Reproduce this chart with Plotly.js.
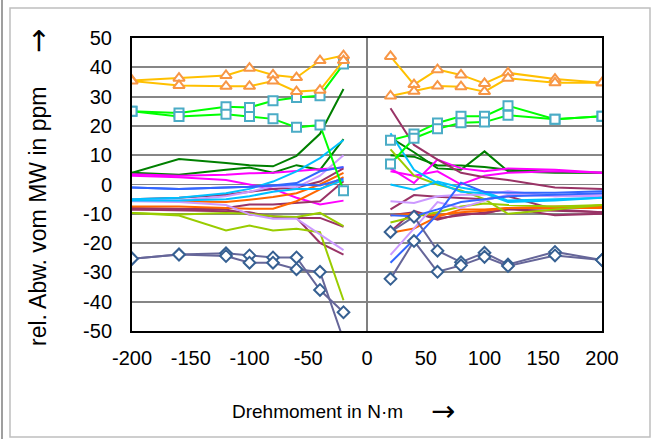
<!DOCTYPE html>
<html>
<head>
<meta charset="utf-8">
<script src="https://cdn.plot.ly/plotly-3.0.1.min.js"></script>
<style>
  html, body { margin: 0; padding: 0; background: #ffffff; }
  #chart { width: 655px; height: 439px; }
</style>
</head>
<body>
<div id="chart"></div>
<script>
// Torque steps (N·m) for the negative and positive load branches
const torqueNeg = [-200, -160, -120, -100, -80, -60, -40, -20];
const torquePos = [20, 40, 60, 80, 100, 120, 160, 200];

// Axis tick labels
const xTickVals = [-200, -150, -100, -50, 0, 50, 100, 150, 200];
const xTickText = ['-200', '-150', '-100', '-50', '0', '50', '100', '150', '200'];
const yTickVals = [50, 40, 30, 20, 10, 0, -10, -20, -30, -40, -50];
const yTickText = ['50', '40', '30', '20', '10', '0', '-10', '-20', '-30', '-40', '-50'];

// Relative deviation from the mean value (ppm), per sensor and branch
const triA_neg = [35.5, 36.3, 37.2, 39.7, 37.4, 36.5, 42.3, 44.0];
const triA_pos = [43.7, 34.1, 39.2, 37.4, 34.5, 38.1, 36.0, 34.7];
const triB_neg = [35.3, 33.8, 33.5, 33.5, 35.3, 31.7, 32.2, 42.3];
const triB_pos = [30.2, 31.8, 33.6, 33.4, 31.7, 36.3, 34.7, 34.7];

const sqA_neg = [25.0, 24.4, 26.5, 26.3, 28.6, 29.7, 30.3, 41.1];
const sqA_pos = [15.1, 17.2, 21.0, 23.3, 23.3, 26.9, 22.3, 23.3];
const sqB_neg = [25.0, 23.2, 24.0, 23.2, 22.4, 19.5, 20.3, -2.1];
const sqB_pos = [7.0, 15.8, 19.0, 21.1, 21.3, 23.6, 22.3, 23.3];

const diaA_neg = [-25.3, -23.9, -23.5, -24.2, -24.9, -24.9, -36.0, -43.6];
const diaA_pos = [-16.2, -11.0, -22.6, -26.5, -23.3, -27.3, -23.0, -25.8];
const diaB_neg = [-25.3, -23.9, -24.4, -26.7, -26.7, -28.9, -29.8, -53.0];
const diaB_pos = [-32.2, -19.3, -29.8, -27.6, -24.7, -27.8, -24.2, -25.8];

const dkGreenA_neg = [4.0, 8.7, 7.3, 6.6, 6.2, 9.8, 17.3, 32.6];
const dkGreenA_pos = [16.0, 11.0, 5.5, 5.0, 11.3, 4.5, 4.0, 4.0];
const dkGreenB_neg = [4.0, 3.3, 5.0, 5.8, 4.0, 6.6, 5.0, 15.5];
const dkGreenB_pos = [10.0, 9.5, 6.5, 6.5, 6.0, 5.0, 4.3, 4.0];

const magentaA_neg = [3.5, 3.0, 3.3, 3.8, 4.0, 4.6, 5.2, 5.8];
const magentaA_pos = [5.5, 0.5, 8.5, 5.5, 4.5, 5.5, 5.0, 4.0];
const magentaB_neg = [3.0, 2.5, 1.5, 0.0, -1.5, -4.5, -6.8, -5.5];
const magentaB_pos = [4.5, 3.0, 4.5, 0.0, 3.0, 4.0, 4.5, 4.0];

const cyanA_neg = [-5.0, -4.5, -3.0, -1.5, 1.0, 4.5, 9.0, 15.2];
const cyanA_pos = [17.5, 5.0, 0.5, -2.5, -3.0, -6.0, -5.5, -4.5];
const cyanB_neg = [-5.5, -5.5, -5.0, -4.0, -2.5, -1.5, -1.5, 1.5];
const cyanB_pos = [0.0, -1.8, 1.0, -1.0, -2.5, -5.5, -5.0, -4.5];

const blueA_neg = [-1.0, -1.5, -1.0, -0.8, -0.3, 0.5, 4.5, 6.0];
const blueA_pos = [-26.7, -18.8, -10.2, 0.6, -2.6, -2.8, -2.8, -2.3];
const blueB_neg = [-1.0, -1.5, -1.0, -0.8, -0.3, 0.0, -0.3, 2.0];
const blueB_pos = [-10.5, -10.8, -8.5, -6.0, -5.0, -4.0, -3.5, -3.0];

const maroonA_neg = [-5.0, -4.5, -3.5, -2.5, -1.5, -1.0, 1.0, 5.5];
const maroonA_pos = [26.0, 13.5, 8.5, 4.0, 2.5, 1.5, -1.0, -1.5];
const maroonB_neg = [-8.5, -8.5, -8.0, -6.8, -6.8, -6.3, -5.7, 1.1];
const maroonB_pos = [-8.5, -3.6, -4.2, -4.5, -5.0, -4.0, -8.5, -9.5];
const maroonC_neg = [-8.0, -8.3, -8.5, -10.2, -10.8, -11.4, -19.9, -23.9];
const maroonC_pos = [-16.0, -9.0, -11.5, -10.5, -9.5, -8.5, -9.0, -9.5];
const maroonD_neg = [-8.5, -8.8, -9.1, -9.5, -11.0, -11.4, -11.4, -14.4];
const maroonD_pos = [-10.5, -9.5, -12.0, -10.0, -10.0, -8.0, -10.5, -10.0];

const orangeA_neg = [-5.5, -5.8, -6.0, -5.2, -4.3, -3.0, 0.0, 4.0];
const orangeA_pos = [-16.5, -15.0, -11.0, -8.5, -8.5, -8.0, -7.5, -7.5];
const orangeB_neg = [-7.5, -7.5, -8.0, -8.3, -8.3, -5.7, -1.7, 2.5];
const orangeB_pos = [-10.5, -10.0, -10.5, -9.5, -9.0, -8.0, -8.0, -8.0];

const ygA_neg = [-9.7, -10.2, -9.7, -10.0, -10.8, -11.1, -9.7, -14.2];
const ygA_pos = [12.0, 3.0, 0.0, -2.0, -5.0, -10.0, -8.5, -7.0];
const ygB_neg = [-9.7, -10.6, -15.7, -14.0, -15.7, -15.1, -16.3, -39.5];
const ygB_pos = [-13.0, -11.0, -9.5, -7.5, -6.5, -7.0, -7.5, -7.0];

const lavA_neg = [-5.0, -5.5, -4.0, -2.5, -0.5, -1.0, 3.0, 10.0];
const lavA_pos = [-5.7, -6.3, -4.0, -3.5, -3.5, -2.3, -4.0, -3.4];
const lavB_neg = [-5.7, -6.0, -7.0, -10.2, -11.7, -11.7, -17.0, -22.4];
const lavB_pos = [-24.0, -15.0, -6.0, -8.0, -5.5, -3.5, -4.0, -4.0];

// Both branches in one trace, broken at zero torque
const xAll = torqueNeg.concat([0], torquePos);
function joined(neg, pos) { return neg.concat([null], pos); }

function lineTrace(neg, pos, color) {
  return {
    type: 'scatter', mode: 'lines', x: xAll, y: joined(neg, pos),
    line: { color: color, width: 2 }, connectgaps: false, hoverinfo: 'skip'
  };
}
function markerTrace(neg, pos, color, symbol, mColor, mSize) {
  return {
    type: 'scatter', mode: 'lines+markers', x: xAll, y: joined(neg, pos),
    line: { color: color, width: 2 }, connectgaps: false, hoverinfo: 'skip',
    marker: { symbol: symbol, size: mSize, color: '#ffffff',
              line: { color: mColor, width: 2 } }
  };
}

const C_DKGREEN = '#008000', C_MAGENTA = '#FF00FF', C_CYAN = '#00C0FF',
      C_BLUE = '#3366FF', C_MAROON = '#993366', C_ORANGE = '#FF6600',
      C_YG = '#99CC00', C_LAV = '#CC99FF';

const traces = [
  lineTrace(dkGreenA_neg, dkGreenA_pos, C_DKGREEN),
  lineTrace(dkGreenB_neg, dkGreenB_pos, C_DKGREEN),
  lineTrace(magentaA_neg, magentaA_pos, C_MAGENTA),
  lineTrace(magentaB_neg, magentaB_pos, C_MAGENTA),
  lineTrace(maroonA_neg, maroonA_pos, C_MAROON),
  lineTrace(maroonB_neg, maroonB_pos, C_MAROON),
  lineTrace(maroonC_neg, maroonC_pos, C_MAROON),
  lineTrace(maroonD_neg, maroonD_pos, C_MAROON),
  lineTrace(orangeA_neg, orangeA_pos, C_ORANGE),
  lineTrace(orangeB_neg, orangeB_pos, C_ORANGE),
  lineTrace(ygA_neg, ygA_pos, C_YG),
  lineTrace(ygB_neg, ygB_pos, C_YG),
  lineTrace(lavA_neg, lavA_pos, C_LAV),
  lineTrace(lavB_neg, lavB_pos, C_LAV),
  lineTrace(cyanA_neg, cyanA_pos, C_CYAN),
  lineTrace(cyanB_neg, cyanB_pos, C_CYAN),
  lineTrace(blueA_neg, blueA_pos, C_BLUE),
  lineTrace(blueB_neg, blueB_pos, C_BLUE),
  markerTrace(sqA_neg, sqA_pos, '#00FF00', 'square', '#4BACC6', 9),
  markerTrace(sqB_neg, sqB_pos, '#00FF00', 'square', '#4BACC6', 9),
  markerTrace(triA_neg, triA_pos, '#FFC000', 'triangle-up', '#F79646', 10),
  markerTrace(triB_neg, triB_pos, '#FFC000', 'triangle-up', '#F79646', 10),
  markerTrace(diaA_neg, diaA_pos, '#666699', 'diamond', '#366092', 9),
  markerTrace(diaB_neg, diaB_pos, '#666699', 'diamond', '#366092', 9)
];

// Plot area spans 132..602 px horizontally and 38..331 px vertically
const PL = 132, PR = 602, PT = 38, PB = 331;
const px = v => (v - PL) / (PR - PL);
const py = v => (PB - v) / (PB - PT);

const tickFont = { family: '"Liberation Sans Narrow", "Liberation Sans", Lato, sans-serif', size: 20, color: '#000000' };
const titleFont = { family: '"Liberation Sans", Lato, sans-serif', size: 23, color: '#000000' };
const xTitleFont = { family: '"Liberation Sans Narrow", "Liberation Sans", Lato, sans-serif', size: 19, color: '#000000' };
const arrowFont = { family: '"DejaVu Sans", sans-serif', size: 29, color: '#000000' };

const layout = {
  width: 655, height: 439,
  margin: { l: PL, r: 655 - PR, t: PT, b: 439 - PB, pad: 0 },
  paper_bgcolor: '#ffffff', plot_bgcolor: '#ffffff',
  showlegend: false,
  font: tickFont,
  xaxis: {
    range: [-200, 200], tickvals: xTickVals, ticktext: xTickText,
    showgrid: false, zeroline: true, zerolinecolor: '#808080', zerolinewidth: 2,
    showline: true, mirror: true, linecolor: '#000000', linewidth: 2,
    ticks: '', ticklabelstandoff: 8, tickfont: tickFont, fixedrange: true
  },
  yaxis: {
    range: [-50, 50], tickvals: yTickVals, ticktext: yTickText,
    showgrid: true, gridcolor: '#868686', gridwidth: 1.8, zeroline: false,
    showline: true, mirror: true, linecolor: '#000000', linewidth: 2,
    ticks: '', ticklabelstandoff: 14, tickfont: tickFont, fixedrange: true
  },
  annotations: [
    { text: 'rel. Abw. vom MW in ppm', xref: 'paper', yref: 'paper',
      x: px(38), y: py(217), textangle: -90, showarrow: false,
      xanchor: 'center', yanchor: 'middle', font: titleFont },
    { text: '\u2192', xref: 'paper', yref: 'paper',
      x: px(38), y: py(41), textangle: -90, showarrow: false,
      xanchor: 'center', yanchor: 'middle', font: arrowFont },
    { text: 'Drehmoment in N\u00b7m', xref: 'paper', yref: 'paper',
      x: px(317), y: py(411), showarrow: false,
      xanchor: 'center', yanchor: 'middle', font: xTitleFont },
    { text: '\u2192', xref: 'paper', yref: 'paper',
      x: px(443), y: py(411), showarrow: false,
      xanchor: 'center', yanchor: 'middle', font: arrowFont }
  ],
  shapes: [
    { type: 'rect', xref: 'paper', yref: 'paper', layer: 'below',
      x0: px(10), x1: px(650), y0: py(437), y1: py(8),
      line: { color: '#BFBFBF', width: 1.5 } },
    { type: 'line', xref: 'paper', yref: 'paper', layer: 'below',
      x0: px(2), x1: px(2), y0: py(439), y1: py(0),
      line: { color: '#7F7F7F', width: 1.5 } }
  ]
};

Plotly.newPlot('chart', traces, layout, { staticPlot: true, displayModeBar: false });
</script>
</body>
</html>
